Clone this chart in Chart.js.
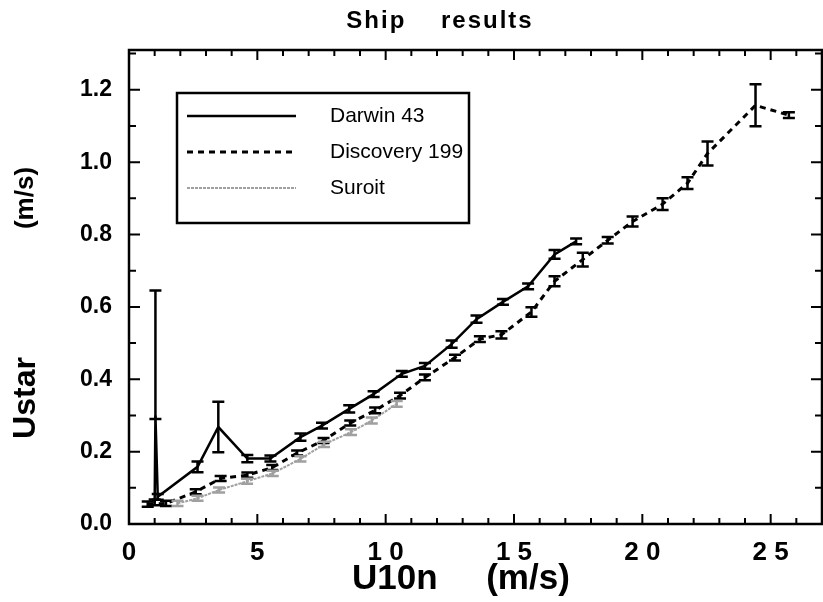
<!DOCTYPE html>
<html>
<head>
<meta charset="utf-8">
<script src="https://cdn.jsdelivr.net/npm/chart.js@4.4.0/dist/chart.umd.min.js"></script>
<style>
  html, body { margin: 0; padding: 0; background: #fff; }
</style>
</head>
<body>
<canvas id="myChart" width="823" height="602"></canvas>
<script>
const darwinX = [1.0, 1.03, 1.12, 2.67, 3.48, 4.61, 5.51, 6.68, 7.52, 8.58, 9.53, 10.63, 11.53, 12.57, 13.54, 14.57, 15.55, 16.58, 17.42];
const darwinY = [0.06, 0.3, 0.075, 0.158, 0.268, 0.181, 0.181, 0.24, 0.272, 0.318, 0.359, 0.415, 0.437, 0.497, 0.566, 0.614, 0.657, 0.745, 0.781];
const darwinErr = [0.008, [0.01, 0.345], 0.008, 0.015, 0.07, 0.01, 0.008, 0.01, 0.008, 0.01, 0.008, 0.008, 0.008, 0.01, 0.01, 0.008, 0.008, 0.012, 0.008];

const discoveryX = [0.73, 1.44, 2.6, 3.57, 4.61, 5.58, 6.55, 7.58, 8.62, 9.59, 10.56, 11.53, 12.7, 13.67, 14.51, 15.68, 16.58, 17.68, 18.65, 19.62, 20.79, 21.76, 22.54, 24.41, 25.71];
const discoveryY = [0.055, 0.057, 0.089, 0.126, 0.135, 0.156, 0.196, 0.231, 0.279, 0.314, 0.355, 0.405, 0.46, 0.511, 0.523, 0.586, 0.671, 0.731, 0.784, 0.836, 0.884, 0.942, 1.024, 1.157, 1.13];
const discoveryErr = [0.007, 0.007, 0.007, 0.007, 0.007, 0.007, 0.007, 0.007, 0.007, 0.008, 0.008, 0.008, 0.008, 0.008, 0.01, 0.013, 0.014, 0.019, 0.009, 0.014, 0.016, 0.016, 0.033, 0.058, 0.008];

const suroitX = [1.89, 2.67, 3.51, 4.6, 5.6, 6.68, 7.6, 8.65, 9.46, 10.43];
const suroitY = [0.057, 0.071, 0.094, 0.118, 0.14, 0.18, 0.22, 0.254, 0.286, 0.332];
const suroitErr = [0.007, 0.007, 0.007, 0.007, 0.007, 0.007, 0.007, 0.008, 0.008, 0.008];

const seriesNames = ["Darwin 43", "Discovery 199", "Suroit"];

const FONT = "'Liberation Sans', Arial, Helvetica, sans-serif";
const GRAY = "#a0a0a0";

const toPoints = (xs, ys) => xs.map((x, i) => ({ x, y: ys[i] }));

// vertical error bars with caps
const errorBars = {
  id: "errorBars",
  afterDatasetsDraw(chart) {
    const { ctx } = chart;
    const xs = chart.scales.x;
    const ys = chart.scales.y;
    chart.data.datasets.forEach((ds) => {
      const errs = ds.errors || [];
      ctx.save();
      ctx.strokeStyle = ds.borderColor;
      ctx.lineWidth = 2.5;
      ctx.setLineDash([]);
      ds.data.forEach((p, i) => {
        const e = errs[i] || 0;
        const [lo, hi] = Array.isArray(e) ? e : [e, e];
        const px = xs.getPixelForValue(p.x);
        const top = ys.getPixelForValue(p.y + hi);
        const bot = ys.getPixelForValue(p.y - lo);
        ctx.beginPath();
        ctx.moveTo(px, top);
        ctx.lineTo(px, bot);
        ctx.moveTo(px - 6, top);
        ctx.lineTo(px + 6, top);
        ctx.moveTo(px - 6, bot);
        ctx.lineTo(px + 6, bot);
        ctx.stroke();
      });
      ctx.restore();
    });
  },
};

// box round the plot with ticks pointing inward, plus title and y title
const frame = {
  id: "frame",
  afterDraw(chart) {
    const { ctx, chartArea: a } = chart;
    const xs = chart.scales.x;
    const ys = chart.scales.y;
    ctx.save();
    ctx.strokeStyle = "#000";
    ctx.lineWidth = 2.5;
    ctx.strokeRect(a.left, a.top, a.right - a.left, a.bottom - a.top);
    ctx.lineWidth = 2;
    ctx.beginPath();
    for (let v = 1; v < xs.max; v++) {
      const px = xs.getPixelForValue(v);
      const len = v % 5 === 0 ? 10 : 6;
      ctx.moveTo(px, a.bottom);
      ctx.lineTo(px, a.bottom - len);
      ctx.moveTo(px, a.top);
      ctx.lineTo(px, a.top + len);
    }
    for (let k = 1; k * 0.1 < ys.max; k++) {
      const py = ys.getPixelForValue(k * 0.1);
      const len = k % 2 === 0 ? 11 : 7;
      ctx.moveTo(a.left, py);
      ctx.lineTo(a.left + len, py);
      ctx.moveTo(a.right, py);
      ctx.lineTo(a.right - len, py);
    }
    ctx.stroke();

    ctx.fillStyle = "#000";
    ctx.textAlign = "center";
    ctx.textBaseline = "middle";
    ctx.font = `bold 24px ${FONT}`;
    ctx.letterSpacing = "2px";
    ctx.fillText("Ship    results", 440, 21);
    ctx.letterSpacing = "0px";

    // y axis title, two parts of different size
    ctx.translate(26, 0);
    ctx.rotate(-Math.PI / 2);
    ctx.font = `bold 32px ${FONT}`;
    ctx.fillText("Ustar", -398, 0);
    ctx.font = `bold 26px ${FONT}`;
    ctx.fillText("(m/s)", -198, 0);
    ctx.restore();
  },
};

// legend box inside the plot
const legendBox = {
  id: "legendBox",
  afterDraw(chart) {
    const { ctx } = chart;
    const ds = chart.data.datasets;
    const rows = [116, 152, 188];
    ctx.save();
    ctx.fillStyle = "#fff";
    ctx.fillRect(177, 93, 292, 130);
    ctx.strokeStyle = "#000";
    ctx.lineWidth = 2.5;
    ctx.strokeRect(177, 93, 292, 130);
    ds.forEach((d, i) => {
      ctx.strokeStyle = d.borderColor;
      ctx.lineWidth = d.borderWidth;
      ctx.setLineDash(d.borderDash || []);
      ctx.beginPath();
      ctx.moveTo(187, rows[i]);
      ctx.lineTo(296, rows[i]);
      ctx.stroke();
      ctx.fillStyle = "#000";
      ctx.font = `21px ${FONT}`;
      ctx.textBaseline = "middle";
      ctx.fillText(d.label, 330, rows[i]);
    });
    ctx.restore();
  },
};

const keepRound = (step) => (scale) => {
  scale.ticks = scale.ticks.filter((t) => Math.abs(t.value / step - Math.round(t.value / step)) < 1e-6);
};

const ctx = document.getElementById("myChart").getContext("2d");
const myChart = new Chart(ctx, {
  type: "scatter",
  data: {
    datasets: [
      {
        label: seriesNames[0],
        data: toPoints(darwinX, darwinY),
        errors: darwinErr,
        showLine: true,
        borderColor: "#000",
        borderWidth: 2.5,
        pointRadius: 0,
      },
      {
        label: seriesNames[1],
        data: toPoints(discoveryX, discoveryY),
        errors: discoveryErr,
        showLine: true,
        borderColor: "#000",
        borderWidth: 3,
        borderDash: [6, 5],
        pointRadius: 0,
      },
      {
        label: seriesNames[2],
        data: toPoints(suroitX, suroitY),
        errors: suroitErr,
        showLine: true,
        borderColor: GRAY,
        borderWidth: 2,
        borderDash: [3, 1],
        pointRadius: 0,
      },
    ],
  },
  options: {
    responsive: false,
    animation: false,
    layout: { padding: { top: 50, right: 1, bottom: 0, left: 0 } },
    plugins: {
      legend: { display: false },
      tooltip: { enabled: false },
      title: { display: false },
    },
    scales: {
      x: {
        type: "linear",
        min: 0,
        max: 27,
        grid: { display: false, drawTicks: false },
        border: { display: false },
        afterBuildTicks: keepRound(5),
        afterFit: (s) => { s.height = 78; },
        ticks: {
          stepSize: 5,
          padding: 13,
          color: "#000",
          font: { family: FONT, size: 26, weight: "bold" },
          callback: (v) => String(v).split("").join(" "),
        },
        title: {
          display: true,
          text: "U10n     (m/s)   ",
          color: "#000",
          font: { family: FONT, size: 35, weight: "bold", lineHeight: 1.2 },
          padding: { top: 0, bottom: 2 },
        },
      },
      y: {
        min: 0,
        max: 1.31,
        grid: { display: false, drawTicks: false },
        border: { display: false },
        afterBuildTicks: keepRound(0.2),
        afterFit: (s) => { s.width = 129; },
        ticks: {
          stepSize: 0.2,
          padding: 17,
          color: "#000",
          font: { family: FONT, size: 23, weight: "bold" },
          callback: (v) => v.toFixed(1),
        },
      },
    },
  },
  plugins: [errorBars, frame, legendBox],
});
</script>
</body>
</html>
